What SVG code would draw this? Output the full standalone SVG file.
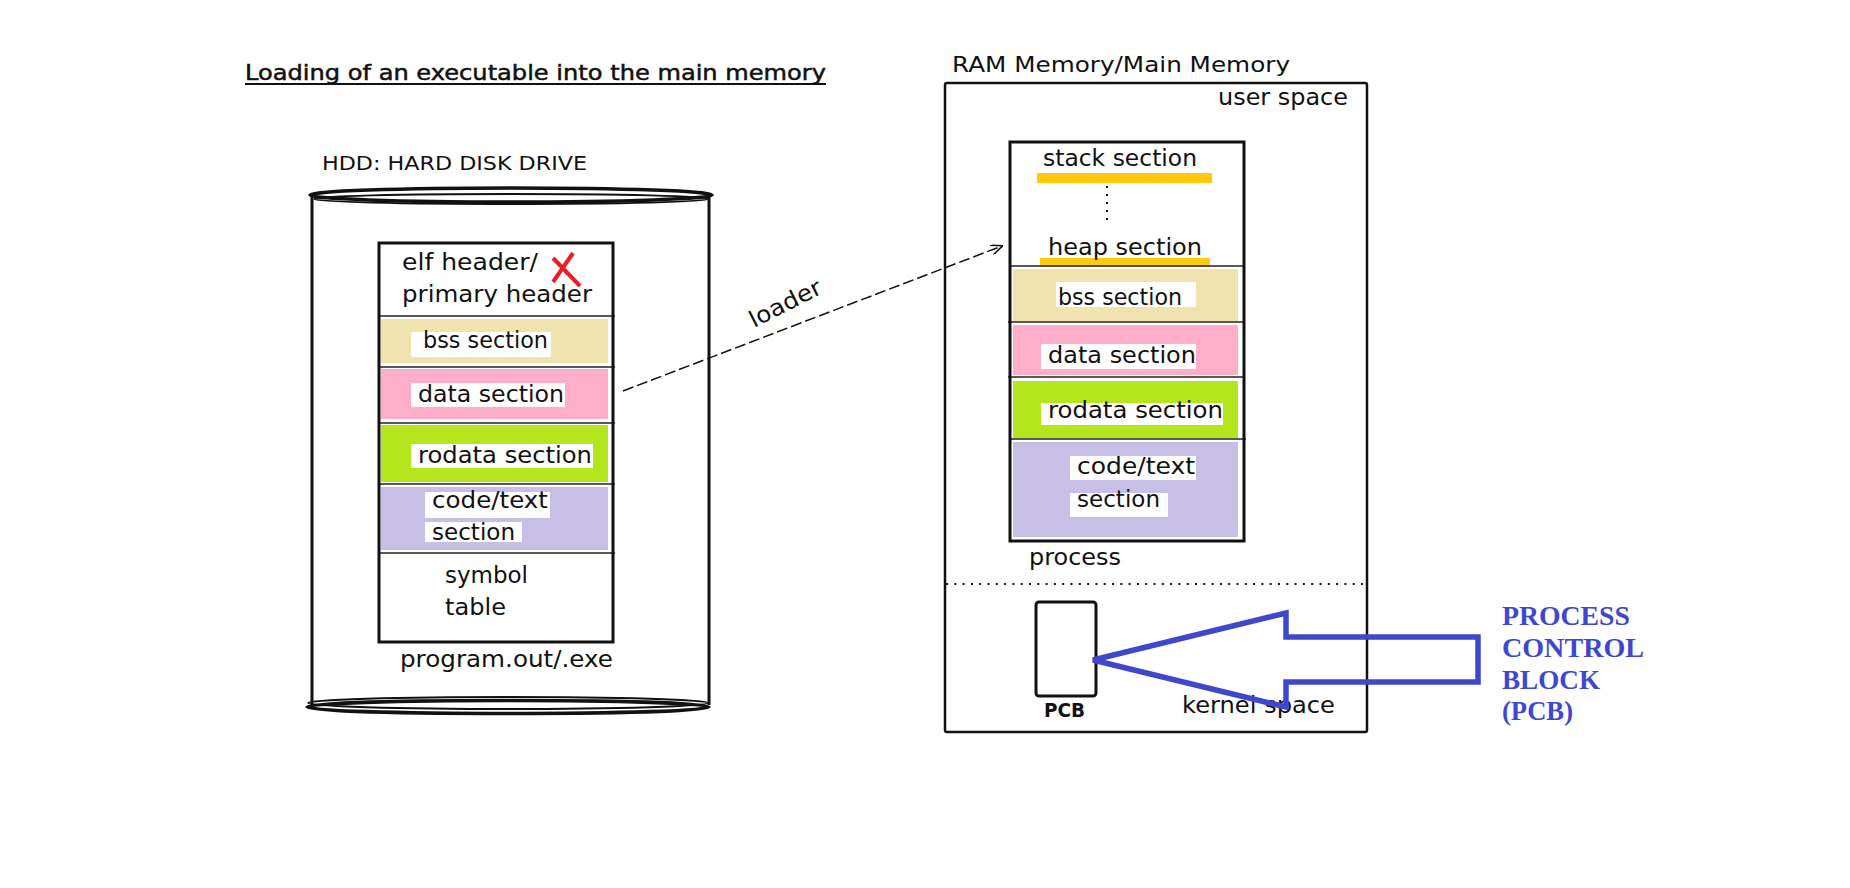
<svg xmlns="http://www.w3.org/2000/svg" width="1850" height="888" viewBox="0 0 1850 888">
<defs>
<style>
.t{font-family:"DejaVu Sans","Liberation Sans",sans-serif;fill:#111;}
.s22{font-size:22.5px;}
.box{fill:none;stroke:#111;}
.div{stroke:#222;stroke-width:1.5;}
.bss{fill:#EFE4B0;}
.data{fill:#FFAEC9;}
.ro{fill:#B5E61D;}
.code{fill:#C8BFE7;}
.wb{fill:#fff;}
.gold{fill:#FFC90E;}
.blue{font-family:"Liberation Serif","Times New Roman",serif;font-weight:bold;font-size:27px;fill:#3F48CC;}
</style>
<marker id="open" viewBox="0 0 12 10" refX="11" refY="5" markerWidth="12" markerHeight="10" markerUnits="userSpaceOnUse" orient="auto">
<path d="M0,0 L12,5 L0,10" fill="none" stroke="#111" stroke-width="1.5"/>
</marker>
</defs>
<rect width="1850" height="888" fill="#fff"/>

<g id="title">
<text class="t" style="font-size:21px;stroke:#111;stroke-width:0.5" x="245" y="80" textLength="581" lengthAdjust="spacingAndGlyphs">Loading of an executable into the main memory</text>
<line x1="245" y1="84" x2="826" y2="84" stroke="#111" stroke-width="2"/>
</g>

<g id="hdd">
<text class="t" style="font-size:20px" x="322" y="170" textLength="265" lengthAdjust="spacingAndGlyphs">HDD: HARD DISK DRIVE</text>
<line x1="312" y1="196" x2="312" y2="705" stroke="#111" stroke-width="3"/>
<line x1="709" y1="196" x2="709" y2="705" stroke="#111" stroke-width="3"/>
<ellipse cx="511" cy="195" rx="201" ry="7" fill="none" stroke="#111" stroke-width="3.5"/>
<ellipse cx="511" cy="199" rx="197" ry="5" fill="none" stroke="#111" stroke-width="1.8"/>
<ellipse cx="508" cy="703" rx="200" ry="6" fill="none" stroke="#111" stroke-width="1.8"/>
<ellipse cx="508" cy="707" rx="201" ry="6.5" fill="none" stroke="#111" stroke-width="3.5"/>
</g>

<g id="program-file">
<rect class="bss" x="381" y="319" width="227" height="44"/>
<rect class="data" x="381" y="369" width="227" height="50"/>
<rect class="ro" x="381" y="425" width="227" height="57"/>
<rect class="code" x="381" y="487" width="227" height="63"/>
<rect class="wb" x="411" y="332" width="140" height="25"/>
<rect class="wb" x="411" y="383" width="154" height="24"/>
<rect class="wb" x="411" y="444" width="182" height="24"/>
<rect class="wb" x="425" y="492" width="125" height="26"/>
<rect class="wb" x="425" y="522" width="97" height="20"/>
<line class="div" x1="379" y1="316" x2="615" y2="316"/>
<line class="div" x1="379" y1="367" x2="615" y2="367"/>
<line class="div" x1="379" y1="423" x2="615" y2="423"/>
<line class="div" x1="379" y1="484" x2="615" y2="484"/>
<line class="div" x1="379" y1="553" x2="615" y2="553"/>
<rect class="box" x="379" y="243" width="234" height="399" stroke-width="3"/>
<text class="t s22" x="402" y="270" textLength="136" lengthAdjust="spacingAndGlyphs">elf header/</text>
<text class="t s22" x="402" y="302" textLength="190" lengthAdjust="spacingAndGlyphs">primary header</text>
<line x1="553" y1="258" x2="580" y2="286" stroke="#ED1C24" stroke-width="4"/>
<line x1="573" y1="253" x2="553" y2="282" stroke="#ED1C24" stroke-width="4"/>
<text class="t s22" x="423" y="348" textLength="125" lengthAdjust="spacingAndGlyphs">bss section</text>
<text class="t s22" x="418" y="402" textLength="146" lengthAdjust="spacingAndGlyphs">data section</text>
<text class="t s22" x="418" y="463" textLength="174" lengthAdjust="spacingAndGlyphs">rodata section</text>
<text class="t s22" x="432" y="508" textLength="116" lengthAdjust="spacingAndGlyphs">code/text</text>
<text class="t s22" x="432" y="540" textLength="83" lengthAdjust="spacingAndGlyphs">section</text>
<text class="t s22" x="445" y="583" textLength="83" lengthAdjust="spacingAndGlyphs">symbol</text>
<text class="t s22" x="445" y="615" textLength="61" lengthAdjust="spacingAndGlyphs">table</text>
<text class="t s22" x="400" y="667" textLength="213" lengthAdjust="spacingAndGlyphs">program.out/.exe</text>
</g>

<g id="ram">
<text class="t" style="font-size:22px" x="952" y="72" textLength="338" lengthAdjust="spacingAndGlyphs">RAM Memory/Main Memory</text>
<rect class="box" x="945" y="83" width="422" height="649" rx="2" stroke-width="2.5"/>
<text class="t s22" x="1218" y="105" textLength="130" lengthAdjust="spacingAndGlyphs">user space</text>
<line x1="946" y1="584" x2="1366" y2="584" stroke="#111" stroke-width="2" stroke-dasharray="2 6.3"/>
<text class="t s22" x="1182" y="713" textLength="153" lengthAdjust="spacingAndGlyphs">kernel space</text>
</g>

<g id="process">
<rect class="bss" x="1013" y="269" width="225" height="52"/>
<rect class="data" x="1013" y="325" width="225" height="50"/>
<rect class="ro" x="1013" y="381" width="225" height="57"/>
<rect class="code" x="1013" y="442" width="225" height="95"/>
<rect class="wb" x="1056" y="282" width="140" height="25"/>
<rect class="wb" x="1041" y="344" width="155" height="25"/>
<rect class="wb" x="1041" y="403" width="182" height="22"/>
<rect class="wb" x="1070" y="456" width="126" height="24"/>
<rect class="wb" x="1070" y="493" width="98" height="24"/>
<rect class="gold" x="1037" y="173" width="175" height="10"/>
<rect class="gold" x="1040" y="258" width="170" height="9"/>
<line x1="1107" y1="186" x2="1107" y2="226" stroke="#111" stroke-width="2" stroke-dasharray="2 6"/>
<line class="div" x1="1010" y1="266" x2="1244" y2="266"/>
<line class="div" x1="1008" y1="322" x2="1244" y2="322"/>
<line class="div" x1="1008" y1="377" x2="1244" y2="377"/>
<line class="div" x1="1010" y1="439" x2="1246" y2="439"/>
<rect class="box" x="1010" y="142" width="234" height="399" stroke-width="3"/>
<text class="t s22" x="1043" y="166" textLength="154" lengthAdjust="spacingAndGlyphs">stack section</text>
<text class="t s22" x="1048" y="255" textLength="154" lengthAdjust="spacingAndGlyphs">heap section</text>
<text class="t s22" x="1058" y="305" textLength="124" lengthAdjust="spacingAndGlyphs">bss section</text>
<text class="t s22" x="1048" y="363" textLength="148" lengthAdjust="spacingAndGlyphs">data section</text>
<text class="t s22" x="1048" y="418" textLength="175" lengthAdjust="spacingAndGlyphs">rodata section</text>
<text class="t s22" x="1077" y="474" textLength="118" lengthAdjust="spacingAndGlyphs">code/text</text>
<text class="t s22" x="1077" y="507" textLength="83" lengthAdjust="spacingAndGlyphs">section</text>
<text class="t s22" x="1029" y="565" textLength="92" lengthAdjust="spacingAndGlyphs">process</text>
</g>

<g id="pcb">
<rect class="box" x="1036" y="602" width="60" height="94" rx="3" stroke-width="3"/>
<text class="t" style="font-size:19px;font-weight:bold" x="1044" y="717" textLength="41" lengthAdjust="spacingAndGlyphs">PCB</text>
</g>

<g id="pcb-label">
<text class="blue" x="1502" y="625" textLength="128" lengthAdjust="spacingAndGlyphs">PROCESS</text>
<text class="blue" x="1502" y="657" textLength="142" lengthAdjust="spacingAndGlyphs">CONTROL</text>
<text class="blue" x="1502" y="689" textLength="98" lengthAdjust="spacingAndGlyphs">BLOCK</text>
<text class="blue" x="1502" y="720" textLength="71" lengthAdjust="spacingAndGlyphs">(PCB)</text>
</g>

<g id="connectors">
<line x1="623" y1="391" x2="1002" y2="246" stroke="#111" stroke-width="1.5" stroke-dasharray="11 4" marker-end="url(#open)"/>
<text class="t" style="font-size:23px" transform="translate(754,328) rotate(-27)" textLength="78" lengthAdjust="spacingAndGlyphs">loader</text>
<polygon points="1093,660 1286,613 1286,637 1478,637 1478,682 1286,682 1286,707" fill="none" stroke="#3F48CC" stroke-width="5.5" stroke-linejoin="miter"/>
</g>
</svg>
